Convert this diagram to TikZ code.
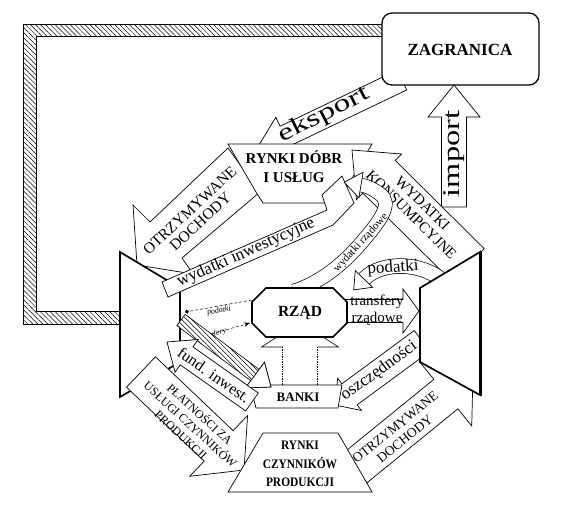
\documentclass[tikz,border=0pt]{standalone}
\usepackage{fontspec}
\setmainfont{Liberation Serif}
\usetikzlibrary{calc,patterns.meta,arrows.meta}
\tikzset{
  shp/.style={draw=black, fill=white, line width=0.7pt, line join=miter},
  heavy/.style={draw=black, fill=white, line width=1.7pt, line join=miter},
  hatch/.style={draw=black, line width=0.6pt, preaction={fill=white}, pattern={Lines[angle=-45,distance=3.5pt,line width=0.5pt]}},
  band/.style={draw=black, line width=0.7pt, double=white},
  txt/.style={inner sep=0pt, align=center, text=black},
  bold/.style={txt},
  dline/.style={densely dashed, line width=0.5pt},
}
\newcommand{\fsz}[2]{\fontsize{#1}{#2}\selectfont}
\newcommand{\blkarrow}[6][shp]{%
  \coordinate (bkA) at (#2);
  \coordinate (bkB) at (#3);
  \coordinate (bkH) at ($(bkB)!#6!(bkA)$);
  \path[#1] ($(bkA)!#4!90:(bkB)$) -- ($(bkH)!#4!90:(bkB)$) -- ($(bkH)!#5!90:(bkB)$) -- (bkB) -- ($(bkH)!#5!-90:(bkB)$) -- ($(bkH)!#4!-90:(bkB)$) -- ($(bkA)!#4!-90:(bkB)$) -- cycle;
}
\begin{document}
\begin{tikzpicture}[x=1pt,y=-1pt]
\useasboundingbox (0,0) rectangle (564,504);
% hatched frame
\path[hatch] (23,24) -- (382,24) -- (382,36) -- (36,36) -- (36,311) -- (120,311) -- (120,324) -- (23,324) -- cycle;
% eksport and import
\blkarrow{402,80}{256,150}{11pt}{21pt}{32pt}
\blkarrow{454,207}{454,85}{12.5pt}{26pt}{32pt}
% ZAGRANICA
\draw[shp, line width=1.3pt, rounded corners=10pt] (382,13) rectangle (539,85);
\node[bold, font=\bfseries\fsz{17}{20}] (zagr) at (460,50) {ZAGRANICA};
\node[txt, font=\fsz{24}{26}, rotate=90] (imp) at (454,154) {\scalebox{1.35}[1]{import}};
% OTRZYMYWANE DOCHODY (upper left)
\path[shp] (228,148) -- (150,222) -- (133,205) -- (137,265) -- (193,274) -- (182,258) -- (260,192) -- cycle;
% households
\path[heavy] (120,252) -- (180,288) -- (180,362) -- (120,397) -- cycle;
\node[txt, font=\fsz{15.5}{15.5}, rotate=43] (otr1) at (195,216) {OTRZYMYWANE\\DOCHODY};
% RYNKI DOBR
\path[shp] (228,144) -- (372,144) -- (344,192) -- (337,203) -- (263,203) -- (256,192) -- cycle;
\node[bold, font=\bfseries\fsz{15}{19}] (rdob) at (294,167) {RYNKI DÓBR\\I USŁUG};
\node[txt, font=\fsz{24}{26}, rotate=27] (eks) at (324,115) {\scalebox{1.4}[1]{eksport}};
% wydatki inwestycyjne
\path[shp] (162,282) -- (327,210) -- (322,195) -- (342,176) -- (354,203) -- (333,225) -- (168,297) -- cycle;
\node[txt, font=\fsz{17}{19}, rotate=24] (winw) at (246,253) {wydatki inwestycyjne};
% wydatki konsumpcyjne
\blkarrow{468,265}{352,150}{23pt}{32pt}{38pt}
\node[txt, font=\fsz{15}{16}, rotate=-44.5] (wkons) at (417,209) {WYDATKI\\KONSUMPCYJNE};
% podatki band
\draw[band, double distance=14pt] (446,284) .. controls (426,262) and (382,260) .. (364,279);
\coordinate (pdE) at (364,279);
\coordinate (pdC) at (382,260);
\path[shp] ($(pdE)!12pt!90:(pdC)$) -- ($(pdE)!-15pt!(pdC)$) -- ($(pdE)!12pt!-90:(pdC)$) -- cycle;
\node[txt, font=\fsz{17}{18}, rotate=4] (pod) at (393,268) {podatki};
% wydatki rzadowe band
\draw[band, double distance=13pt] (294,291) .. controls (322,282) and (345,262) .. (362,242) .. controls (378,223) and (394,204) .. (380,194) .. controls (373,189) and (367,186) .. (361,185);
\coordinate (rzE) at (361,185);
\coordinate (rzC) at (367,186);
\path[shp] ($(rzE)!13pt!90:(rzC)$) -- ($(rzE)!-17pt!(rzC)$) -- ($(rzE)!13pt!-90:(rzC)$) -- cycle;
\node[txt, font=\fsz{11}{12}, rotate=48] (wrz) at (361,243) {wydatki rządowe};
% OTRZYMYWANE DOCHODY (lower right)
\blkarrow{355,468}{473,372}{19pt}{41pt}{35pt}
% oszczednosci
\blkarrow{422,341}{335,405}{13pt}{20pt}{18pt}
% firms
\path[heavy] (420,288) -- (480,252) -- (480,395) -- (420,362) -- cycle;
\draw[line width=2.6pt] (481,251) -- (481,396);
\node[txt, font=\fsz{13.5}{15}, rotate=39] (otr2) at (400,433) {OTRZYMYWANE\\DOCHODY};
\node[txt, font=\fsz{17}{18}, rotate=36] (osz) at (379,371) {oszczędności};
% transfery
\blkarrow{345,311}{419,311}{11.5pt}{22pt}{16pt}
\node[txt, font=\fsz{15}{17}] (trf) at (377,310) {transfery\\rządowe};
% BANKI -> RZAD
\path[fill=white] (282.5,386) -- (282.5,347) -- (261.5,347) -- (300,322) -- (338.5,347) -- (317.5,347) -- (317.5,386) -- cycle;
\draw[line width=0.6pt] (282.5,347) -- (261.5,347) -- (300,322) -- (338.5,347) -- (317.5,347);
\draw[densely dotted, line width=0.7pt] (282.5,347) -- (282.5,386) (317.5,347) -- (317.5,386);
% RZAD
\path[shp, line width=1.6pt] (266,288) -- (333,288) -- (347,302) -- (347,323) -- (333,337) -- (266,337) -- (252,323) -- (252,302) -- cycle;
\node[bold, font=\bfseries\fsz{15.5}{18}] (rzad) at (300,313) {RZĄD};
% dashed links households - RZAD
\coordinate (dA1) at (252,300);
\coordinate (dB1) at (185,312);
\coordinate (dA2) at (183,342);
\coordinate (dB2) at (250,323);
\draw[dline, -{Circle[length=4pt]}] (dA1) -- (dB1);
\draw[dline, -{Stealth[length=6pt]}] (dA2) -- (dB2);
\node[txt, font=\itshape\fsz{8}{9}, rotate=10] (dl1) at (219,311) {podatki};
\node[txt, font=\itshape\fsz{8}{9}, rotate=16] (dl2) at (212,335) {transfery};
% BANKI
\path[shp] (250,385) -- (342,385) -- (338,408) -- (256,408) -- cycle;
\node[bold, font=\bfseries\fsz{13}{15}] (banki) at (298,397) {BANKI};
% hatched arrow
\blkarrow[hatch]{181,320}{271,387}{7pt}{16pt}{20pt}
\path[shp] ($(bkH)!16pt!90:(bkB)$) -- (bkB) -- ($(bkH)!16pt!-90:(bkB)$) -- cycle;
% fund. inwest.
\blkarrow{252,402}{167,342}{11pt}{20pt}{24pt}
\node[txt, font=\fsz{16}{18}, rotate=-35] (fund) at (214,375) {fund. inwest.};
% PLATNOSCI
\blkarrow{141,372}{244,470}{21pt}{42pt}{35pt}
\node[txt, font=\fsz{12}{14}, rotate=-42.5] (plat) at (191,424) {PŁATNOŚCI ZA\\USŁUGI CZYNNIKÓW\\PRODUKCJI};
% RYNKI CZYNNIKOW PRODUKCJI
\path[shp] (263,433) -- (338,433) -- (372,492) -- (228,492) -- cycle;
\node[bold, font=\bfseries\fsz{13}{18.5}] (rcz) at (300,464) {\scalebox{0.88}[1]{RYNKI}\\\scalebox{0.88}[1]{CZYNNIKÓW}\\\scalebox{0.88}[1]{PRODUKCJI}};
\end{tikzpicture}
\end{document}
